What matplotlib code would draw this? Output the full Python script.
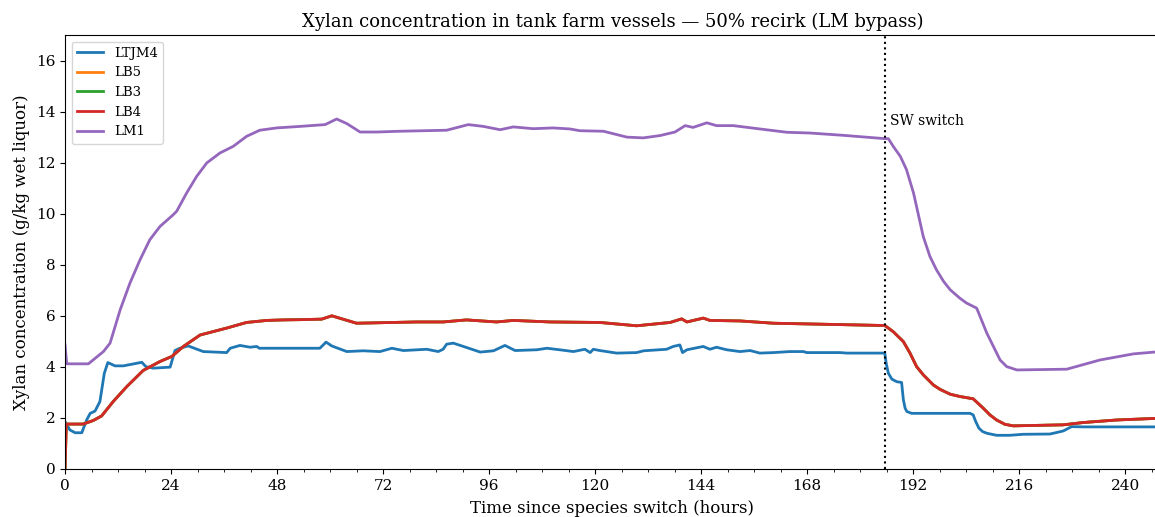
import matplotlib
matplotlib.use("Agg")
import matplotlib.pyplot as plt
from matplotlib.ticker import MultipleLocator

plt.rcParams['font.family'] = ['DejaVu Serif']

title = "Xylan concentration in tank farm vessels \u2014 50% recirk (LM bypass)"
xlabel = "Time since species switch (hours)"
ylabel = "Xylan concentration (g/kg wet liquor)"
xticks = [0, 24, 48, 72, 96, 120, 144, 168, 192, 216, 240]
yticks = [0, 2, 4, 6, 8, 10, 12, 14, 16]
switch_time = 185.6
switch_label = "SW switch"

t_ltjm4 = [0.0, 0.2, 1.1, 2.3, 3.8, 4.9, 5.7, 6.8, 7.9, 8.9, 9.7, 11.3, 13.2, 17.4, 18.3, 20.0,
           23.8, 24.9, 26.0, 27.9, 31.3, 36.6, 37.4, 39.6, 41.9, 43.4, 44.0, 49.4, 57.7, 59.1,
           60.4, 63.8, 67.5, 71.3, 74.0, 76.6, 81.9, 84.5, 85.6, 86.4, 87.9, 90.2, 94.0, 97.0,
           99.6, 101.9, 106.8, 109.1, 112.0, 115.1, 117.7, 118.9, 119.6, 121.1, 124.9, 129.4,
           131.0, 136.2, 137.7, 139.2, 139.8, 140.8, 144.5, 146.0, 147.5, 149.8, 152.8, 155.1,
           157.3, 160.4, 164.1, 167.2, 167.9, 175.5, 177.0, 185.6, 185.9, 186.4, 187.2, 188.3, 189.4,
           189.8, 190.2, 190.6, 191.7, 204.9, 205.6, 206.2, 206.9, 207.7, 208.7, 210.9, 213.9, 216.9,
           223.0, 226.0, 227.9, 230.5, 248.0]
v_ltjm4 = [1.86, 1.80, 1.53, 1.42, 1.42, 1.92, 2.18, 2.27, 2.64, 3.75, 4.17, 4.04, 4.04, 4.18, 4.01, 3.95,
           3.99, 4.64, 4.73, 4.82, 4.60, 4.56, 4.73, 4.84, 4.77, 4.80, 4.73, 4.73, 4.73, 4.97,
           4.82, 4.60, 4.63, 4.60, 4.73, 4.64, 4.69, 4.60, 4.69, 4.89, 4.93, 4.80, 4.58, 4.63,
           4.84, 4.64, 4.67, 4.73, 4.67, 4.60, 4.69, 4.56, 4.69, 4.64, 4.54, 4.56,
           4.63, 4.69, 4.80, 4.86, 4.56, 4.67, 4.80, 4.69, 4.77, 4.67, 4.60, 4.64,
           4.54, 4.56, 4.60, 4.60, 4.56, 4.56, 4.54, 4.54, 4.15, 3.75, 3.52, 3.42, 3.39,
           2.71, 2.38, 2.25, 2.18, 2.18, 2.12, 1.85, 1.60, 1.47, 1.40, 1.32, 1.32, 1.36,
           1.37, 1.49, 1.66, 1.65, 1.65]

t_lb4 = [0.0, 0.3, 4.1, 6.4, 8.3, 10.9, 14.0, 17.7, 21.5, 24.2, 26.8, 30.6, 36.6, 41.1, 45.7,
         49.4, 53.2, 58.1, 60.4, 66.0, 79.6, 85.6, 90.9, 97.7, 101.5, 109.8, 121.1, 129.4,
         137.0, 139.6, 140.8, 144.5, 146.0, 152.8, 160.4, 171.7, 185.6, 187.5, 189.8, 191.3,
         192.8, 194.3, 196.6, 198.1, 200.4, 202.6, 205.6, 207.9, 209.4, 210.9, 212.8, 214.7,
         226.0, 230.5, 238.1, 248.0]
v_lb4 = [0.0, 1.76, 1.76, 1.90, 2.08, 2.64, 3.23, 3.86, 4.21, 4.41, 4.80, 5.25, 5.52, 5.74, 5.82,
         5.84, 5.85, 5.87, 6.00, 5.71, 5.76, 5.76, 5.84, 5.76, 5.82, 5.76, 5.74, 5.61,
         5.74, 5.88, 5.76, 5.91, 5.82, 5.80, 5.71, 5.67, 5.62, 5.38, 4.99, 4.54,
         4.01, 3.69, 3.29, 3.12, 2.93, 2.84, 2.75, 2.38, 2.12, 1.92, 1.75, 1.69,
         1.73, 1.82, 1.92, 1.99]
# LB5 and LB3 coincide with LB4 (hidden underneath it)
t_lb5 = list(t_lb4)
v_lb5 = list(v_lb4)
t_lb3 = list(t_lb4)
v_lb3 = list(v_lb4)

t_lm1 = [0.0, 0.4, 5.3, 8.7, 10.2, 12.5, 14.7, 17.0, 19.2, 21.5, 24.5, 25.3, 27.5, 29.8, 32.1,
         35.1, 38.1, 41.1, 44.1, 47.9, 53.2, 58.9, 61.5, 63.8, 66.8, 70.6, 75.8, 86.4, 91.3,
         94.7, 98.5, 101.5, 106.0, 110.5, 114.3, 116.6, 121.9, 127.2, 130.9, 134.7, 138.1,
         140.4, 142.2, 145.3, 147.5, 151.3, 157.3, 163.4, 168.7, 176.2, 185.6, 186.4, 187.5,
         189.1, 190.5, 192.1, 194.3, 195.8, 197.3, 198.9, 200.4, 202.6, 204.1, 206.4, 208.7,
         211.7, 213.2, 215.5, 226.8, 234.3, 241.9, 248.0]
v_lm1 = [4.86, 4.12, 4.12, 4.60, 4.93, 6.24, 7.28, 8.20, 8.98, 9.50, 9.96, 10.10, 10.80, 11.46, 11.99,
         12.38, 12.64, 13.03, 13.27, 13.36, 13.42, 13.49, 13.71, 13.53, 13.20, 13.20, 13.23, 13.27, 13.49,
         13.42, 13.29, 13.40, 13.33, 13.36, 13.32, 13.25, 13.23, 13.00, 12.97, 13.06, 13.20,
         13.45, 13.38, 13.56, 13.45, 13.45, 13.32, 13.19, 13.16, 13.07, 12.94, 12.94, 12.64,
         12.25, 11.73, 10.81, 9.11, 8.33, 7.80, 7.35, 7.02, 6.69, 6.50, 6.30, 5.32,
         4.27, 4.01, 3.88, 3.91, 4.27, 4.51, 4.60]

series = [("LTJM4", t_ltjm4, v_ltjm4, "#1f77b4"),
          ("LB5", t_lb5, v_lb5, "#ff7f0e"),
          ("LB3", t_lb3, v_lb3, "#2ca02c"),
          ("LB4", t_lb4, v_lb4, "#d62728"),
          ("LM1", t_lm1, v_lm1, "#9467bd")]

W, H = 1155, 517
fig = plt.figure(figsize=(W / 100, H / 100), dpi=100)
ax = fig.add_axes([65 / W, 48 / H, 1095 / W, 434 / H])

for name, t, v, c in series:
    ax.plot(t, v, color=c, lw=2, label=name)

ax.axvline(switch_time, color="black", linestyle=":", lw=1.5)
ax.text(switch_time + 1.2, 13.65, switch_label, fontsize=10, ha="left", va="center")

ax.set_xlim(0, 247.9)
ax.set_ylim(0, 17)
ax.set_xticks(xticks)
ax.set_yticks(yticks)
ax.xaxis.set_minor_locator(MultipleLocator(6))
ax.tick_params(labelsize=11)
ax.set_title(title, fontsize=13)
ax.set_xlabel(xlabel, fontsize=12, labelpad=5)
ax.set_ylabel(ylabel, fontsize=12)
ax.legend(loc="upper left", fontsize=9.5)

fig.savefig("out.png", dpi=100)
